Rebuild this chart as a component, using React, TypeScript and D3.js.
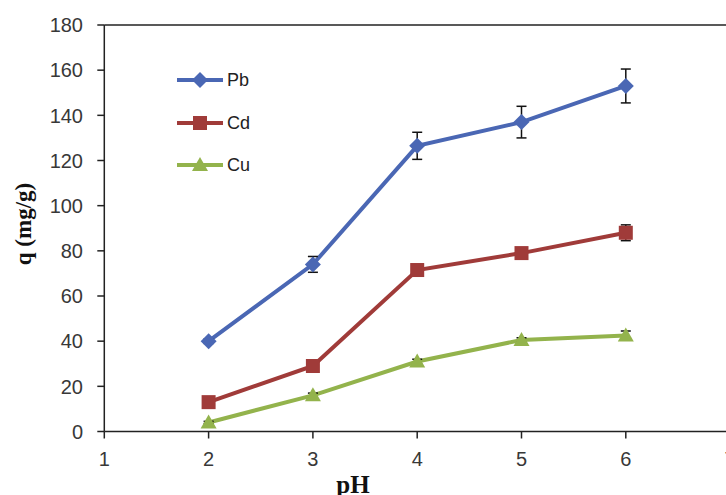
import React from "react";
import * as d3 from "d3";

const W = 726;
const H = 495;

const phValues = [2, 3, 4, 5, 6];
const pbValues = [40, 74, 126.5, 137, 153];
const pbErrors = [1, 3.5, 6, 7, 7.5];
const cdValues = [13, 29, 71.5, 79, 88];
const cdErrors = [1, 1.5, 2, 2, 3.5];
const cuValues = [4, 16, 31, 40.5, 42.5];
const cuErrors = [0.5, 1, 1, 1, 2];
const xTicks = [1, 2, 3, 4, 5, 6, 7];
const yTicks = [0, 20, 40, 60, 80, 100, 120, 140, 160, 180];
const seriesNames = ["Pb", "Cd", "Cu"];

const colors: Record<string, string> = { Pb: "#4a67b4", Cd: "#a03b39", Cu: "#93b34c" };

export default function App() {
  const left = 104.3;
  const x = d3.scaleLinear().domain([1, 7]).range([left, left + 6 * 104.3]);
  const y = d3.scaleLinear().domain([0, 180]).range([431.5, 25]);

  const series = [
    { name: "Pb", values: pbValues, errors: pbErrors, shape: "diamond" },
    { name: "Cd", values: cdValues, errors: cdErrors, shape: "square" },
    { name: "Cu", values: cuValues, errors: cuErrors, shape: "triangle" },
  ];

  const line = d3
    .line<number>()
    .x((_, i) => x(phValues[i]))
    .y((v) => y(v));

  const marker = (shape: string, cx: number, cy: number, color: string, key: string) => {
    if (shape === "diamond") {
      const s = 8;
      return (
        <path key={key} d={`M${cx},${cy - s}L${cx + s},${cy}L${cx},${cy + s}L${cx - s},${cy}Z`} fill={color} />
      );
    }
    if (shape === "square") {
      const s = 7;
      return <rect key={key} x={cx - s} y={cy - s} width={2 * s} height={2 * s} fill={color} />;
    }
    const s = 8;
    return (
      <path key={key} d={`M${cx},${cy - s}L${cx + s},${cy + 6}L${cx - s},${cy + 6}Z`} fill={color} />
    );
  };

  const tickFont = "'Liberation Sans', Arial, sans-serif";
  const serif = "'Liberation Serif', 'Times New Roman', serif";
  const legendX1 = 177;
  const legendX2 = 223;
  const legendY = [80, 123, 165];

  return (
    <svg width={W} height={H} style={{ position: "absolute", left: 0, top: 0, background: "#fff" }}>
      <rect width={W} height={H} fill="#fff" />
      <line x1={left} x2={W} y1={25} y2={25} stroke="#222" strokeWidth={1.5} />
      <line x1={left} x2={left} y1={25} y2={y(0)} stroke="#222" strokeWidth={1.5} />
      {yTicks.map((t) => (
        <g key={"y" + t}>
          <line x1={left - 7} x2={left} y1={y(t)} y2={y(t)} stroke="#222" strokeWidth={1.5} />
          <text x={83} y={y(t)} dy="0.36em" textAnchor="end" fontFamily={tickFont} fontSize={20} fill="#383838">
            {t}
          </text>
        </g>
      ))}
      <line x1={left} x2={W} y1={y(0)} y2={y(0)} stroke="#222" strokeWidth={1.5} />
      {xTicks.map((t) => (
        <g key={"x" + t}>
          <line x1={x(t)} x2={x(t)} y1={y(0)} y2={y(0) + 7} stroke="#222" strokeWidth={1.5} />
          <text x={x(t)} y={466} textAnchor="middle" fontFamily={tickFont} fontSize={20} fill="#383838">
            {t}
          </text>
        </g>
      ))}
      <text
        transform={`translate(31,224) rotate(-90)`}
        textAnchor="middle"
        fontFamily={serif}
        fontWeight="bold"
        fontSize={23}
        fill="#111"
      >
        q (mg/g)
      </text>
      <text x={353} y={493} textAnchor="middle" fontFamily={serif} fontWeight="bold" fontSize={25} fill="#111">
        pH
      </text>
      {series.map((s) => (
        <g key={s.name}>
          <path d={line(s.values) || ""} fill="none" stroke={colors[s.name]} strokeWidth={4} />
          {s.values.map((v, i) => {
            const cx = x(phValues[i]);
            const yt = y(v + s.errors[i]);
            const yb = y(v - s.errors[i]);
            return (
              <g key={s.name + "e" + i}>
                <line x1={cx} x2={cx} y1={yt} y2={yb} stroke="#111" strokeWidth={1.5} />
                <line x1={cx - 5} x2={cx + 5} y1={yt} y2={yt} stroke="#111" strokeWidth={1.5} />
                <line x1={cx - 5} x2={cx + 5} y1={yb} y2={yb} stroke="#111" strokeWidth={1.5} />
              </g>
            );
          })}
          {s.values.map((v, i) => marker(s.shape, x(phValues[i]), y(v), colors[s.name], s.name + "m" + i))}
        </g>
      ))}
      {seriesNames.map((n, i) => {
        const sh = series[i].shape;
        const ly = legendY[i];
        return (
          <g key={"lg" + n}>
            <line x1={legendX1} x2={legendX2} y1={ly} y2={ly} stroke={colors[n]} strokeWidth={4} />
            {marker(sh, (legendX1 + legendX2) / 2, ly, colors[n], "lgm" + n)}
            <text x={227} y={ly} dy="0.36em" fontFamily={tickFont} fontSize={18} fill="#222">
              {n}
            </text>
          </g>
        );
      })}
    </svg>
  );
}
